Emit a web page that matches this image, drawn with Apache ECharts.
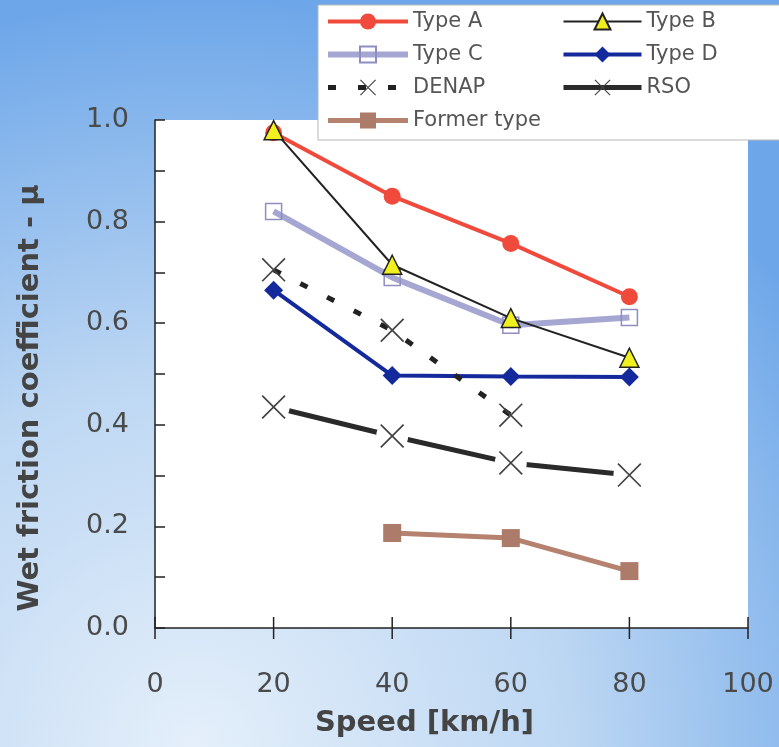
<!DOCTYPE html>
<html>
<head>
<meta charset="utf-8">
<script src="https://cdn.jsdelivr.net/npm/echarts@6/dist/echarts.min.js"></script>
<style>html,body{margin:0;padding:0;}#c{width:779px;height:747px;}</style>
</head>
<body>
<div id="c"></div>
<script>
var speeds = [20, 40, 60, 80];
var typeA = [0.975, 0.85, 0.757, 0.652];
var typeB = [0.98, 0.715, 0.61, 0.532];
var typeC = [0.82, 0.69, 0.596, 0.611];
var typeD = [0.665, 0.497, 0.495, 0.494];
var denap = [0.705, 0.586, 0.419, null];
var rso = [0.435, 0.378, 0.325, 0.301];
var former = [null, 0.187, 0.177, 0.112];
var xTicks = [0, 20, 40, 60, 80, 100];
var yTicks = [0.0, 0.2, 0.4, 0.6, 0.8, 1.0];

function pairs(vals) {
  var out = [];
  for (var i = 0; i < speeds.length; i++) {
    if (vals[i] !== null) out.push([speeds[i], vals[i]]);
  }
  return out;
}

var XPATH = 'path://M0,1L1,0L20,19L19,20Z M19,0L20,1L1,20L0,19Z';
var FONT = 'DejaVu Sans';

var chart = echarts.init(document.getElementById('c'), null, {renderer: 'canvas'});

var legendText = {fontSize: 21, color: '#555555', fontFamily: FONT};

var option = {
  animation: false,
  backgroundColor: {
    type: 'radial', x: 0.25, y: 1.0, r: 1.0,
    colorStops: [
      {offset: 0, color: '#e4effa'},
      {offset: 0.5, color: '#bdd7f3'},
      {offset: 1, color: '#6ea7e9'}
    ]
  },
  grid: {left: 155, right: 31, top: 120, bottom: 119, show: true, backgroundColor: '#ffffff', borderWidth: 0},
  graphic: [{
    type: 'rect', z: 3,
    shape: {x: 318, y: 5, width: 470, height: 135},
    style: {fill: '#ffffff', stroke: '#b8b8b8', lineWidth: 1}
  }],
  legend: [{
    orient: 'vertical', left: 320, top: 6, itemGap: 12, itemWidth: 80, itemHeight: 20, z: 5,
    lineStyle: {width: 'inherit'},
    data: ['Type A', 'Type C', 'DENAP', 'Former type'],
    textStyle: legendText
  }, {
    orient: 'vertical', left: 556, top: 6, itemGap: 12, itemWidth: 78, itemHeight: 20, z: 5,
    lineStyle: {width: 'inherit'},
    data: ['Type B', 'Type D', {name: 'RSO', lineStyle: {color: '#2a2a2a', width: 5, opacity: 1}}],
    textStyle: legendText
  }],
  xAxis: {
    type: 'value', min: 0, max: 100, interval: 20, position: 'bottom',
    splitLine: {show: false},
    name: 'Speed [km/h]', nameLocation: 'middle', nameGap: 81,
    nameTextStyle: {fontSize: 29, fontWeight: 'bold', color: '#444444', fontFamily: FONT, padding: [0, 54, 0, 0]},
    axisLine: {show: true, lineStyle: {color: '#222222', width: 1.5}},
    axisTick: {show: false},
    axisLabel: {
      fontSize: 27, color: '#4a4a4a', fontFamily: FONT, margin: 43,
      formatter: function (v) { return xTicks.indexOf(v) >= 0 ? String(v) : ''; }
    }
  },
  yAxis: {
    type: 'value', min: 0, max: 1, interval: 0.1,
    name: 'Wet friction coefficient - μ', nameLocation: 'middle', nameGap: 110, nameRotate: 90,
    nameTextStyle: {fontSize: 29, fontWeight: 'bold', color: '#444444', fontFamily: FONT, padding: [0, 48, 0, 0]},
    splitLine: {show: false},
    axisLine: {show: true, lineStyle: {color: '#222222', width: 1.5}},
    axisTick: {show: true, inside: true, length: 10, lineStyle: {color: '#222222', width: 1.5}},
    axisLabel: {
      fontSize: 27, color: '#4a4a4a', fontFamily: FONT, margin: 26,
      formatter: function (v) {
        for (var i = 0; i < yTicks.length; i++) {
          if (Math.abs(yTicks[i] - v) < 1e-6) return yTicks[i].toFixed(1);
        }
        return '';
      }
    }
  },
  series: [
    {
      name: 'Type A', type: 'line', data: pairs(typeA), z: 3,
      symbol: 'circle', symbolSize: 17,
      lineStyle: {color: '#f04a3c', width: 4},
      itemStyle: {color: '#f04a3c'}
    },
    {
      name: 'Type B', type: 'line', data: pairs(typeB), z: 4,
      symbol: 'triangle', symbolSize: 19,
      lineStyle: {color: '#222222', width: 2},
      itemStyle: {color: '#f0f01e', borderColor: '#222222', borderWidth: 1.5}
    },
    {
      name: 'Type C', type: 'line', data: pairs(typeC), z: 3,
      symbol: 'rect', symbolSize: 16,
      lineStyle: {color: '#a6a6d2', width: 6},
      itemStyle: {color: 'rgba(255,255,255,0)', borderColor: '#8e8ec4', borderWidth: 1.5}
    },
    {
      name: 'Type D', type: 'line', data: pairs(typeD), z: 3,
      symbol: 'diamond', symbolSize: 19,
      lineStyle: {color: '#142a9c', width: 4},
      itemStyle: {color: '#142a9c'}
    },
    {
      name: 'DENAP', type: 'line', data: pairs(denap), z: 3,
      symbol: XPATH, symbolSize: 24,
      lineStyle: {color: '#222222', width: 5, type: [8, 22]},
      itemStyle: {color: '#444444'}
    },
    {
      name: 'rso-line', type: 'line', data: pairs(rso), z: 2,
      symbol: 'none', silent: true,
      lineStyle: {color: '#2a2a2a', width: 5}
    },
    {
      name: 'rso-gap', type: 'line', data: pairs(rso), z: 3,
      symbol: 'circle', symbolSize: 32, silent: true,
      lineStyle: {width: 0, opacity: 0},
      itemStyle: {color: '#ffffff'}
    },
    {
      name: 'RSO', type: 'line', data: pairs(rso), z: 4,
      symbol: XPATH, symbolSize: 24,
      lineStyle: {color: '#2a2a2a', width: 0, opacity: 0},
      itemStyle: {color: '#444444'}
    },
    {
      name: 'Former type', type: 'line', data: pairs(former), z: 3,
      symbol: 'rect', symbolSize: 18,
      lineStyle: {color: '#b5826f', width: 5},
      itemStyle: {color: '#ad7b69'}
    },
    {
      name: 'axis-ticks', type: 'custom', silent: true, z: 6, clip: false,
      data: xTicks.map(function (v) { return [v, 0]; }),
      renderItem: function (params, api) {
        var p = api.coord([api.value(0), api.value(1)]);
        return {
          type: 'line', z2: 10,
          shape: {x1: p[0], y1: p[1] - 11, x2: p[0], y2: p[1] + 11},
          style: {stroke: '#222222', lineWidth: 1.5, fill: null}
        };
      }
    }
  ]
};
chart.setOption(option);
</script>
</body>
</html>
